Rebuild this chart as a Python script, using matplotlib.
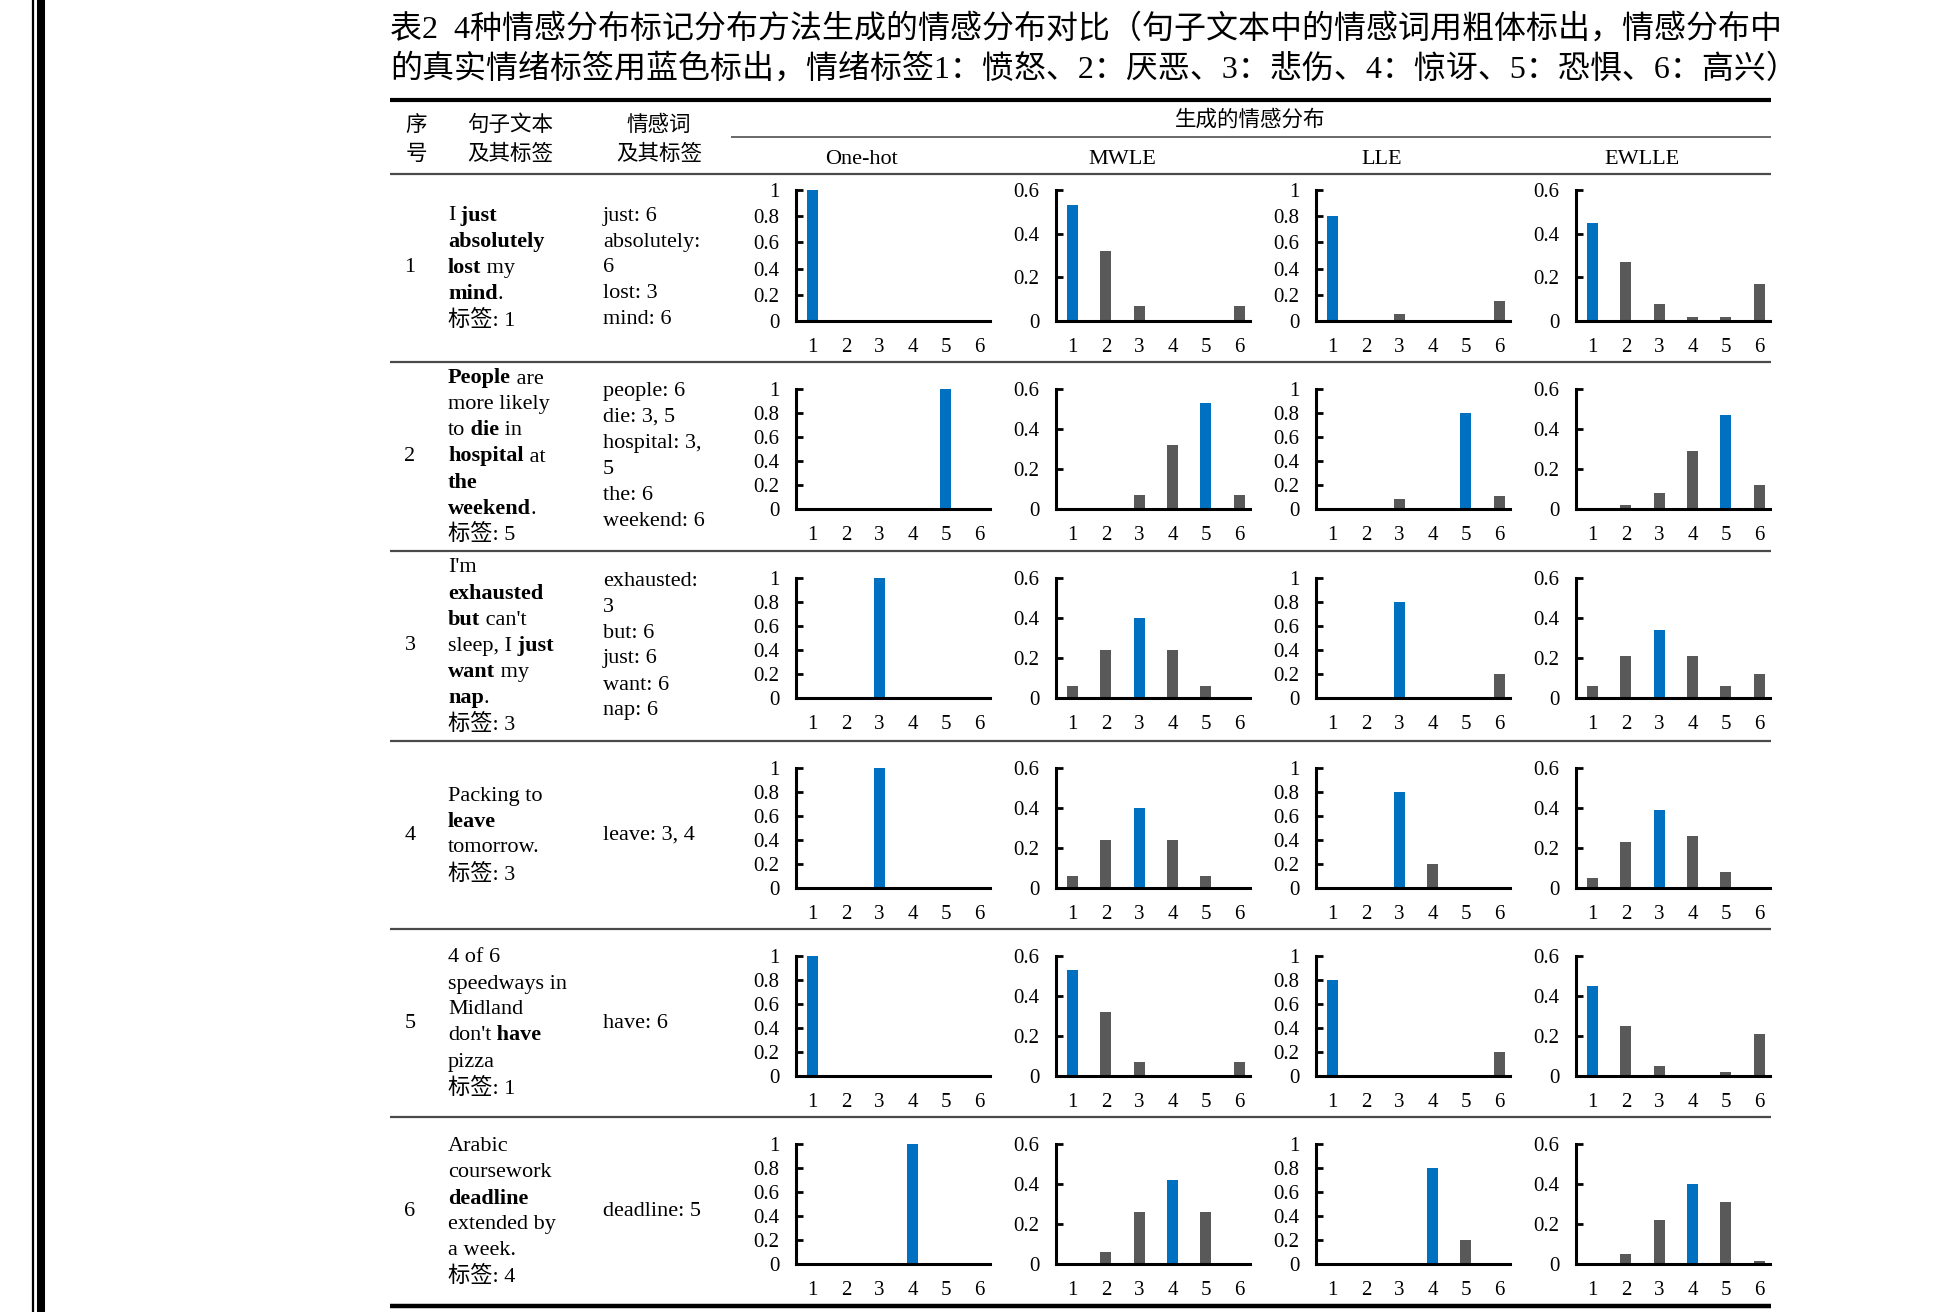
import matplotlib
matplotlib.use('Agg')
import matplotlib.pyplot as plt

plt.rcParams['font.family'] = ['Liberation Serif', 'Noto Sans CJK SC']

# ---------------- data ----------------
categories = [1, 2, 3, 4, 5, 6]
methods = ['One-hot', 'MWLE', 'LLE', 'EWLLE']
true_labels = [1, 5, 3, 3, 1, 4]

onehot = [[1, 0, 0, 0, 0, 0],
          [0, 0, 0, 0, 1, 0],
          [0, 0, 1, 0, 0, 0],
          [0, 0, 1, 0, 0, 0],
          [1, 0, 0, 0, 0, 0],
          [0, 0, 0, 1, 0, 0]]
mwle = [[0.53, 0.32, 0.07, 0, 0, 0.07],
        [0, 0, 0.07, 0.32, 0.53, 0.07],
        [0.06, 0.24, 0.40, 0.24, 0.06, 0],
        [0.06, 0.24, 0.40, 0.24, 0.06, 0],
        [0.53, 0.32, 0.07, 0, 0, 0.07],
        [0, 0.06, 0.26, 0.42, 0.26, 0]]
lle = [[0.80, 0, 0.05, 0, 0, 0.15],
       [0, 0, 0.08, 0, 0.80, 0.11],
       [0, 0, 0.80, 0, 0, 0.20],
       [0, 0, 0.80, 0.20, 0, 0],
       [0.80, 0, 0, 0, 0, 0.20],
       [0, 0, 0, 0.80, 0.20, 0]]
ewlle = [[0.45, 0.27, 0.077, 0.02, 0.02, 0.17],
         [0, 0.02, 0.08, 0.29, 0.47, 0.12],
         [0.06, 0.21, 0.34, 0.21, 0.06, 0.12],
         [0.05, 0.23, 0.39, 0.26, 0.08, 0],
         [0.45, 0.25, 0.05, 0, 0.02, 0.21],
         [0, 0.05, 0.22, 0.40, 0.31, 0.015]]
method_data = [onehot, mwle, lle, ewlle]
method_ymax = [1, 0.6, 1, 0.6]
yticks_1 = [0, 0.2, 0.4, 0.6, 0.8, 1]
yticklabels_1 = ['0', '0.2', '0.4', '0.6', '0.8', '1']
yticks_06 = [0, 0.2, 0.4, 0.6]
yticklabels_06 = ['0', '0.2', '0.4', '0.6']

sentences = [
    ["I **just**", "**absolutely**", "**lost** my", "**mind**.", "标签: 1"],
    ["**People** are", "more likely", "to **die** in", "**hospital** at", "**the**",
     "**weekend**.", "标签: 5"],
    ["I'm", "**exhausted**", "**but** can't", "sleep, I **just**", "**want** my",
     "**nap**.", "标签: 3"],
    ["Packing to", "**leave**", "tomorrow.", "标签: 3"],
    ["4 of 6", "speedways in", "Midland", "don't **have**", "pizza", "标签: 1"],
    ["Arabic", "coursework", "**deadline**", "extended by", "a week.", "标签: 4"],
]
emotion_words = [
    ["just: 6", "absolutely:", "6", "lost: 3", "mind: 6"],
    ["people: 6", "die: 3, 5", "hospital: 3,", "5", "the: 6", "weekend: 6"],
    ["exhausted:", "3", "but: 6", "just: 6", "want: 6", "nap: 6"],
    ["leave: 3, 4"],
    ["have: 6"],
    ["deadline: 5"],
]
title_lines = ["表2  4种情感分布标记分布方法生成的情感分布对比（句子文本中的情感词用粗体标出，情感分布中",
               "的真实情绪标签用蓝色标出，情绪标签1：愤怒、2：厌恶、3：悲伤、4：惊讶、5：恐惧、6：高兴）"]
header_cols = [["序", "号"], ["句子文本", "及其标签"], ["情感词", "及其标签"]]
header_group = "生成的情感分布"

BLUE = '#0070C0'
GRAY = '#595959'

# ---------------- layout ----------------
W, H = 1950, 1312
fig = plt.figure(figsize=(W / 100, H / 100), dpi=100)
bg = fig.add_axes([0, 0, 1, 1])
bg.set_xlim(0, W)
bg.set_ylim(H, 0)
bg.axis('off')

# left margin bars
bg.plot([33, 33], [0, H], color='black', lw=1.6, solid_capstyle='butt')
bg.plot([41, 41], [0, H], color='black', lw=5.8, solid_capstyle='butt')

# title
for i, t in enumerate(title_lines):
    bg.text(390, 29 + 40 * i, t, ha='left', va='center', fontsize=23)

TX0, TX1 = 390, 1771
row_lines = [174, 362, 551, 741, 929, 1117, 1306]

bg.plot([TX0, TX1], [99.5, 99.5], color='black', lw=3.0, solid_capstyle='butt')
bg.plot([731, TX1], [137, 137], color='#404040', lw=1.1, solid_capstyle='butt')
for k, yl in enumerate(row_lines):
    if k == len(row_lines) - 1:
        bg.plot([TX0, TX1], [yl, yl], color='black', lw=3.2, solid_capstyle='butt')
    else:
        bg.plot([TX0, TX1], [yl, yl], color='#4a4a4a', lw=1.6, solid_capstyle='butt')

# header
hfont = dict(family=['Noto Sans CJK SC'], fontsize=15.5)
hx = [416, 510, 659]
for x, (a, b) in zip(hx, header_cols):
    bg.text(x, 125, a, ha='center', va='center', **hfont)
    bg.text(x, 154, b, ha='center', va='center', **hfont)
bg.text(1250, 120, header_group, ha='center', va='center', **hfont)

col_x0 = [796, 1056, 1316, 1576]
col_w = 194
for j, m in enumerate(methods):
    bg.text(col_x0[j] + 66, 159, m, ha='center', va='center', fontsize=16)


def draw_rich(x, y, s, fs=16):
    parts = s.split('**')
    segs = []
    for i, p in enumerate(parts):
        segs.append([p, i % 2 == 1])
    for i in range(len(segs) - 1):
        if segs[i][0].endswith(' '):
            segs[i][0] = segs[i][0].rstrip(' ')
            segs[i + 1][0] = ' ' + segs[i + 1][0]
    prev = None
    for txt, bold in segs:
        if txt == '':
            continue
        fw = 'bold' if bold else 'normal'
        if prev is None:
            prev = bg.text(x, y, txt, ha='left', va='center', fontsize=fs, fontweight=fw)
        else:
            prev = bg.annotate(txt, xy=(1, 0), xycoords=prev, ha='left', va='bottom',
                               fontsize=fs, fontweight=fw)


LS = 26
for r in range(6):
    yc = (row_lines[r] + row_lines[r + 1]) / 2
    bg.text(410, yc, str(r + 1), ha='center', va='center', fontsize=16)
    lines = sentences[r]
    y0 = yc - (len(lines) - 1) / 2 * LS
    for i, ln in enumerate(lines):
        draw_rich(448, y0 + i * LS, ln)
    lines = emotion_words[r]
    y0 = yc - (len(lines) - 1) / 2 * LS
    for i, ln in enumerate(lines):
        bg.text(603, y0 + i * LS, ln, ha='left', va='center', fontsize=16)

    if r == 0:
        ay0, ay1 = 190, 321
    else:
        ay0, ay1 = row_lines[r] + 27, row_lines[r] + 147
    for j in range(4):
        ax = fig.add_axes([col_x0[j] / W, 1 - ay1 / H, col_w / W, (ay1 - ay0) / H])
        vals = method_data[j][r]
        colors = [BLUE if c == true_labels[r] else GRAY for c in categories]
        ax.bar(categories, vals, width=0.33, color=colors, zorder=1)
        ax.set_xlim(0.5, 6.33)
        ax.set_ylim(0, method_ymax[j])
        if method_ymax[j] == 1:
            ax.set_yticks(yticks_1)
            ax.set_yticklabels(yticklabels_1)
        else:
            ax.set_yticks(yticks_06)
            ax.set_yticklabels(yticklabels_06)
        ax.set_xticks(categories)
        ax.set_xticklabels([str(c) for c in categories])
        for s in ['top', 'right']:
            ax.spines[s].set_visible(False)
        for s in ['left', 'bottom']:
            ax.spines[s].set_linewidth(2.2)
            ax.spines[s].set_color('black')
            ax.spines[s].set_zorder(3)
        ax.tick_params(axis='y', direction='in', length=5, width=2, pad=12, labelsize=15)
        ax.tick_params(axis='x', length=0, pad=12, labelsize=15)
        ax.patch.set_alpha(0)

fig.savefig('out.png', dpi=100)
